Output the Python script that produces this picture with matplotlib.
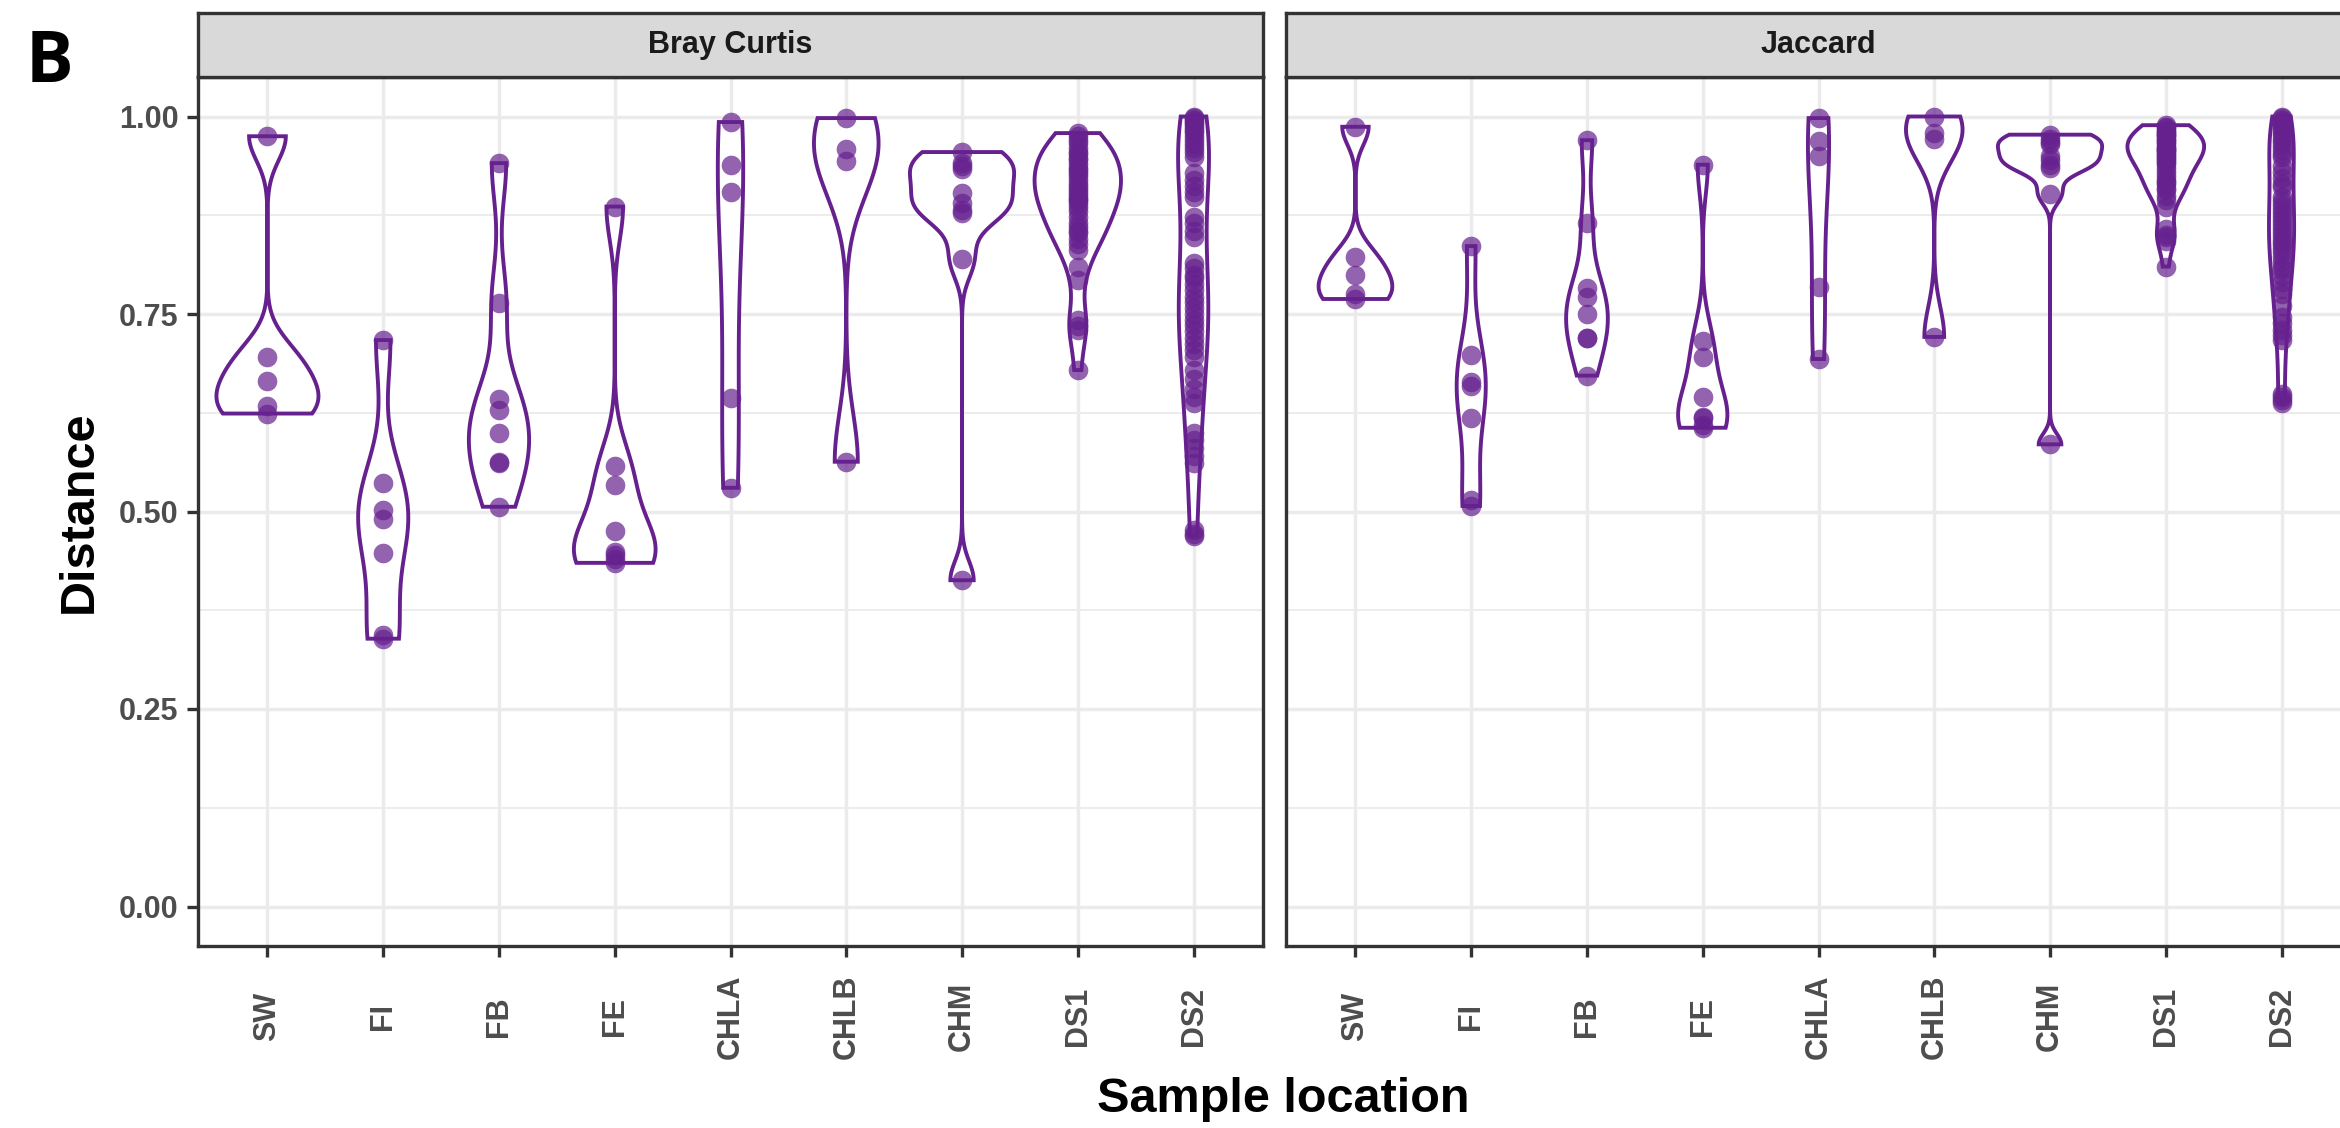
import numpy as np
import matplotlib
matplotlib.use("Agg")
import matplotlib.pyplot as plt

# sample locations (x categories)
locations = ["SW", "FI", "FB", "FE", "CHLA", "CHLB", "CHM", "DS1", "DS2"]
panels = ["Bray Curtis", "Jaccard"]

# Bray Curtis distances
bc_sw = [0.975, 0.696, 0.665, 0.633, 0.624]
bc_fi = [0.717, 0.536, 0.502, 0.491, 0.447, 0.344, 0.339]
bc_fb = [0.941, 0.764, 0.643, 0.629, 0.600, 0.563, 0.561, 0.506]
bc_fe = [0.886, 0.557, 0.534, 0.475, 0.449, 0.445, 0.440, 0.435]
bc_chla = [0.993, 0.938, 0.904, 0.644, 0.530]
bc_chlb = [0.998, 0.959, 0.944, 0.563]
bc_chm = [0.955, 0.941, 0.937, 0.933, 0.903, 0.890, 0.882, 0.878, 0.819, 0.413]
bc_ds1 = [0.979, 0.975, 0.970, 0.966, 0.960, 0.955, 0.953, 0.948, 0.945, 0.940,
          0.935, 0.932, 0.928, 0.925, 0.920, 0.915, 0.911, 0.907, 0.903, 0.900,
          0.896, 0.894, 0.890, 0.886, 0.880, 0.873, 0.865, 0.860, 0.855, 0.852,
          0.845, 0.839, 0.831, 0.810, 0.793, 0.742, 0.735, 0.730, 0.679]
bc_ds2 = [1.000, 0.998, 0.996, 0.993, 0.990, 0.987, 0.983, 0.980, 0.975, 0.970,
          0.965, 0.960, 0.955, 0.949, 0.928, 0.920, 0.912, 0.905, 0.898, 0.873,
          0.865, 0.855, 0.848, 0.814, 0.808, 0.800, 0.795, 0.788, 0.780, 0.772,
          0.765, 0.758, 0.750, 0.743, 0.736, 0.728, 0.720, 0.712, 0.705, 0.696,
          0.679, 0.668, 0.655, 0.645, 0.637, 0.599, 0.590, 0.580, 0.570, 0.561,
          0.477, 0.472, 0.469]

# Jaccard distances
jc_sw = [0.987, 0.822, 0.799, 0.775, 0.769]
jc_fi = [0.836, 0.698, 0.664, 0.659, 0.618, 0.514, 0.507]
jc_fb = [0.970, 0.865, 0.783, 0.772, 0.750, 0.720, 0.720, 0.672]
jc_fe = [0.939, 0.716, 0.695, 0.645, 0.620, 0.618, 0.610, 0.606]
jc_chla = [0.998, 0.969, 0.950, 0.784, 0.693]
jc_chlb = [1.000, 0.979, 0.972, 0.721]
jc_chm = [0.977, 0.972, 0.968, 0.965, 0.950, 0.945, 0.938, 0.935, 0.902, 0.585]
jc_ds1 = [0.989, 0.987, 0.985, 0.982, 0.980, 0.978, 0.976, 0.975, 0.972, 0.970,
          0.968, 0.965, 0.962, 0.960, 0.958, 0.957, 0.955, 0.952, 0.950, 0.947,
          0.945, 0.943, 0.940, 0.935, 0.930, 0.925, 0.920, 0.917, 0.915, 0.910,
          0.907, 0.900, 0.894, 0.886, 0.857, 0.850, 0.848, 0.843, 0.810]
jc_ds2 = [1.000, 0.998, 0.996, 0.993, 0.990, 0.987, 0.984, 0.980, 0.976, 0.972,
          0.968, 0.963, 0.958, 0.953, 0.949, 0.937, 0.930, 0.922, 0.915, 0.911,
          0.898, 0.893, 0.888, 0.883, 0.878, 0.873, 0.868, 0.863, 0.858, 0.853,
          0.848, 0.843, 0.838, 0.833, 0.828, 0.822, 0.816, 0.810, 0.806, 0.798,
          0.790, 0.782, 0.775, 0.760, 0.746, 0.738, 0.730, 0.723, 0.717, 0.649,
          0.645, 0.641, 0.637]

data = {
    "Bray Curtis": [bc_sw, bc_fi, bc_fb, bc_fe, bc_chla, bc_chlb, bc_chm, bc_ds1, bc_ds2],
    "Jaccard": [jc_sw, jc_fi, jc_fb, jc_fe, jc_chla, jc_chlb, jc_chm, jc_ds1, jc_ds2],
}

purple = "#66218F"
font = "Liberation Sans"


def bw_nrd0(x):
    x = np.asarray(x)
    hi = np.std(x, ddof=1)
    q75, q25 = np.percentile(x, [75, 25])
    lo = min(hi, (q75 - q25) / 1.34)
    if lo == 0:
        lo = hi if hi > 0 else 1.0
    return 0.9 * lo * len(x) ** -0.2


def kde(x):
    # gaussian density, trimmed to the data range (like ggplot trim=TRUE)
    x = np.asarray(x)
    bw = bw_nrd0(x)
    grid = np.linspace(x.min(), x.max(), 512)
    d = np.exp(-0.5 * ((grid[:, None] - x[None, :]) / bw) ** 2).sum(axis=1)
    d = d / (len(x) * bw * np.sqrt(2 * np.pi))
    return grid, d


W, H = 2340, 1128
fig = plt.figure(figsize=(W / 100, H / 100), dpi=100)

ax_top, ax_bot = 77, 946
strip_top = 13
lefts = [198, 1286]
pw = 1065

for k, name in enumerate(panels):
    ax = fig.add_axes([lefts[k] / W, 1 - ax_bot / H, pw / W, (ax_bot - ax_top) / H])
    ax.set_xlim(0.4, 9.6)
    ax.set_ylim(-0.05, 1.05)
    ax.set_axisbelow(True)

    ax.set_yticks([0, 0.25, 0.5, 0.75, 1.0])
    ax.set_yticks([0.125, 0.375, 0.625, 0.875], minor=True)
    ax.set_xticks(range(1, 10))
    ax.grid(True, which="major", color="#EBEBEB", lw=2.5)
    ax.grid(True, which="minor", axis="y", color="#EBEBEB", lw=1.3)
    ax.tick_params(which="minor", length=0)
    ax.tick_params(which="major", length=8, width=2.4, color="#333333")

    for sp in ax.spines.values():
        sp.set_color("#333333")
        sp.set_linewidth(2.4)

    if k == 0:
        ax.set_yticklabels(["0.00", "0.25", "0.50", "0.75", "1.00"],
                           fontsize=22, fontweight="bold", color="#4D4D4D", family=font)
        ax.tick_params(axis="y", pad=6)
    else:
        ax.tick_params(axis="y", length=0, labelleft=False)

    ax.set_xticklabels(locations, rotation=90, fontsize=22, fontweight="bold",
                       color="#4D4D4D", family=font)
    ax.tick_params(axis="x", pad=43)
    for lab in ax.get_xticklabels():
        lab.set_verticalalignment("center")

    groups = data[name]
    dens = [kde(g) for g in groups]
    dmax = max(d.max() for _, d in dens)
    for i, (grid, d) in enumerate(dens):
        pos = i + 1
        w = 0.45 * d / dmax
        xs = np.concatenate([pos + w, (pos - w)[::-1]])
        ys = np.concatenate([grid, grid[::-1]])
        ax.fill(xs, ys, facecolor="white", edgecolor=purple, lw=2.8, zorder=2)
        ax.scatter(np.full(len(groups[i]), pos), groups[i], s=200, color=purple,
                   alpha=0.7, lw=0, zorder=3)

    # facet strip
    sax = fig.add_axes([lefts[k] / W, 1 - ax_top / H, pw / W, (ax_top - strip_top) / H])
    sax.set_facecolor("#D9D9D9")
    sax.set_xticks([])
    sax.set_yticks([])
    for sp in sax.spines.values():
        sp.set_color("#333333")
        sp.set_linewidth(2.4)
    sax.text(0.5, 0.5, name, transform=sax.transAxes, ha="center", va="center",
             fontsize=22, fontweight="bold", color="#1A1A1A", family=font)

fig.text(79 / W, 1 - 512 / H, "Distance", rotation=90, ha="center", va="center",
         fontsize=35, fontweight="bold", family=font)
fig.text(1283 / W, 1 - 1112 / H, "Sample location", ha="center", va="baseline",
         fontsize=35, fontweight="bold", family=font)
fig.text(26 / W, 1 - 82 / H, "B", ha="left", va="baseline", fontsize=51,
         fontweight="bold", family="Open Sans")

fig.savefig("out.png", dpi=100)
